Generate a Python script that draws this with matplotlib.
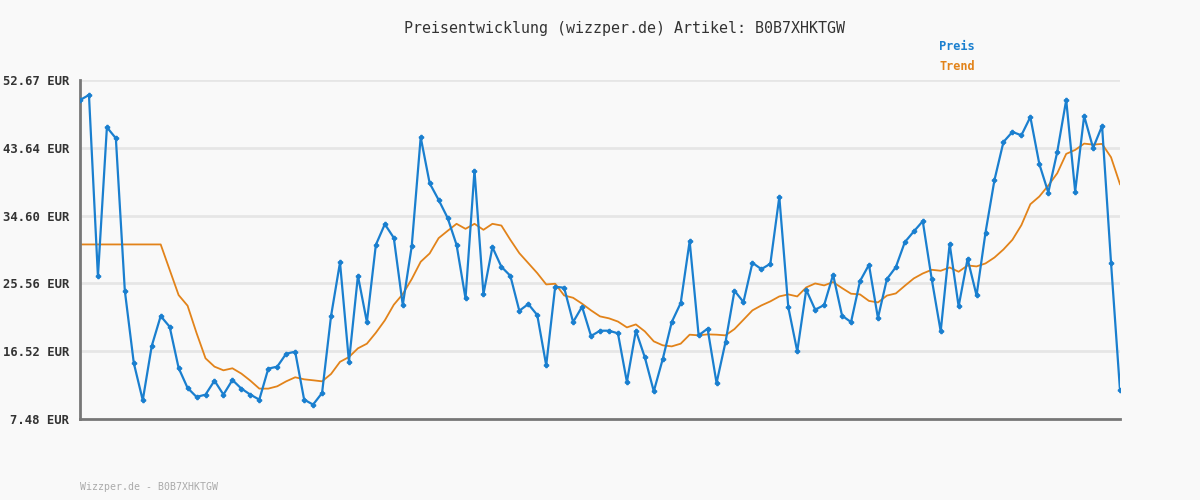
import matplotlib
matplotlib.use("Agg")
import matplotlib.pyplot as plt
import numpy as np

title = "Preisentwicklung (wizzper.de) Artikel: B0B7XHKTGW"
footer = "Wizzper.de - B0B7XHKTGW"
yticks = [7.48, 16.52, 25.56, 34.60, 43.64, 52.67]
ytick_labels = ["7.48 EUR", "16.52 EUR", "25.56 EUR", "34.60 EUR", "43.64 EUR", "52.67 EUR"]

preis = [
    50.0, 50.67, 26.48, 46.37, 44.90, 24.58, 14.94, 9.98, 17.21, 21.2,
    19.78, 14.28, 11.62, 10.42, 10.73, 12.59, 10.73, 12.68, 11.53, 10.73,
    10.06, 14.19, 14.46, 16.19, 16.45, 10.06, 9.40, 10.95, 21.2, 28.35,
    15.10, 26.57, 20.40, 30.70, 33.45, 31.63, 22.67, 30.52, 45.04, 38.91,
    36.69, 34.30, 30.70, 23.55, 40.60, 24.13, 30.39, 27.77, 26.57, 21.91,
    22.80, 21.34, 14.63, 25.11, 24.98, 20.40, 22.45, 18.54, 19.25, 19.25,
    18.90, 12.42, 19.25, 15.70, 11.17, 15.48, 20.40, 22.93, 31.19, 18.63,
    19.52, 12.28, 17.74, 24.58, 23.07, 28.30, 27.46, 28.17, 37.09, 22.40,
    16.50, 24.71, 22.05, 22.67, 26.71, 21.25, 20.40, 25.86, 28.04, 20.94,
    26.13, 27.73, 31.06, 32.48, 33.85, 26.13, 19.16, 30.83, 22.49, 28.84,
    23.95, 32.34, 39.35, 44.41, 45.75, 45.30, 47.74, 41.48, 37.67, 43.08,
    50.01, 37.80, 47.88, 43.61, 46.54, 28.30, 11.31,
]

trend = [
    30.75, 30.75, 30.75, 30.75, 30.75, 30.75, 30.75, 30.75, 30.75, 30.75,
    27.37, 24.0, 22.58, 18.94, 15.57, 14.46, 13.97, 14.24, 13.53, 12.59,
    11.53, 11.53, 11.84, 12.50, 13.04, 12.77, 12.64, 12.50, 13.48, 15.10,
    15.74, 16.90, 17.52, 18.98, 20.63, 22.71, 24.13, 26.13, 28.44, 29.55,
    31.59, 32.56, 33.50, 32.83, 33.50, 32.70, 33.50, 33.27, 31.37, 29.59,
    28.26, 26.93, 25.42, 25.51, 23.95, 23.64, 22.85, 21.96, 21.16, 20.90,
    20.47, 19.69, 20.09, 19.16, 17.83, 17.30, 17.16, 17.52, 18.72, 18.63,
    18.76, 18.72, 18.63, 19.47, 20.71, 21.96, 22.62, 23.16, 23.82, 24.09,
    23.82, 25.02, 25.55, 25.29, 25.73, 24.93, 24.18, 24.09, 23.22, 23.02,
    23.93, 24.22, 25.24, 26.22, 26.88, 27.37, 27.24, 27.68, 27.11, 27.95,
    27.82, 28.22, 29.01, 30.08, 31.37, 33.32, 36.11, 37.14, 38.60, 40.24,
    42.82, 43.35, 44.19, 44.06, 44.15, 42.37, 38.78,
]

bg = "#f9f9f9"
blue = "#1a7fcf"
orange = "#e2831a"
mono = ["DejaVu Sans Mono"]

fig = plt.figure(figsize=(12, 5), dpi=100, facecolor=bg)
ax = fig.add_axes([80 / 1200, 1 - 419 / 500, 1040 / 1200, 339 / 500], facecolor=bg)

x = np.arange(len(preis))
for t in yticks[1:]:
    ax.axhline(t, color="#e6e6e6", lw=2, zorder=0)
ax.plot(x, trend, color=orange, lw=1.3, zorder=2)
ax.plot(x, preis, color=blue, lw=1.6, marker="P", ms=3.0, mec=blue, mfc=blue, zorder=3)

ax.set_xlim(0, len(preis) - 1)
ax.set_ylim(yticks[0], yticks[-1])
ax.set_yticks(yticks)
ax.set_yticklabels(ytick_labels, family=mono, fontsize=8.8, fontweight="bold", color="#333333")
ax.set_xticks([])
ax.tick_params(axis="y", length=0, pad=8)
for s in ["top", "right"]:
    ax.spines[s].set_visible(False)
for s in ["left", "bottom"]:
    ax.spines[s].set_color("#777777")
    ax.spines[s].set_linewidth(2)

fig.text(624 / 1200, 1 - 28 / 500, title, ha="center", va="center", family=mono,
         fontsize=10.8, color="#333333")
fig.text(939 / 1200, 1 - 47 / 500, "Preis", ha="left", va="center", family=mono,
         fontsize=8.6, fontweight="bold", color=blue)
fig.text(939 / 1200, 1 - 67 / 500, "Trend", ha="left", va="center", family=mono,
         fontsize=8.6, fontweight="bold", color=orange)
fig.text(80 / 1200, 1 - 487 / 500, footer, ha="left", va="center", family=mono,
         fontsize=7.1, color="#aaaaaa")

fig.savefig("out.png", dpi=100, facecolor=bg)
